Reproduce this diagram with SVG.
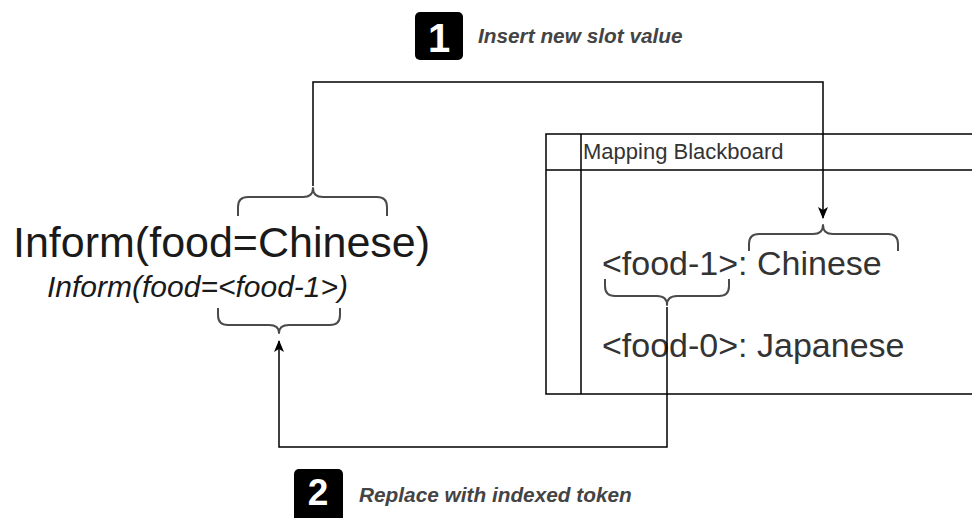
<svg xmlns="http://www.w3.org/2000/svg" width="972" height="518" viewBox="0 0 972 518">
<style>
  .bg{fill:#ffffff}
  .line{fill:none;stroke:#000;stroke-width:1.5}
  .brace{fill:none;stroke:#4a4a4a;stroke-width:2;stroke-linejoin:round}
  .tbl{fill:none;stroke:#000;stroke-width:1.5}
  .big{font-family:"Liberation Sans",Arial,sans-serif;fill:#1a1a1a}
  .ital{font-family:"Liberation Sans",Arial,sans-serif;font-style:italic;fill:#1a1a1a}
  .cell{font-family:"Liberation Sans",Arial,sans-serif;fill:#333}
  .step{font-family:"Liberation Sans",Arial,sans-serif;font-style:italic;font-weight:bold;fill:#444;font-size:20.8px}
  .badge{fill:#000}
  .digit{font-family:"Liberation Sans",Arial,sans-serif;font-weight:bold;fill:#fff;text-anchor:middle}
</style>
<defs>
  <marker id="arrow" viewBox="0 0 12 10" refX="11" refY="5" markerWidth="12" markerHeight="10" markerUnits="userSpaceOnUse" orient="auto">
    <path d="M0,0 L12,5 L0,10 L3,5 Z" fill="#000"/>
  </marker>
</defs>
<rect class="bg" x="0" y="0" width="972" height="518"/>

<g id="step1">
  <rect class="badge" x="415" y="12" width="48" height="48" rx="5"/>
  <text class="digit" x="439" y="52" font-size="40">1</text>
  <text class="step" x="478" y="43">Insert new slot value</text>
</g>

<g id="step2">
  <rect class="badge" x="294" y="469" width="49" height="56" rx="5"/>
  <text class="digit" x="318" y="505" font-size="37">2</text>
  <text class="step" x="359" y="502">Replace with indexed token</text>
</g>

<g id="inform">
  <text class="big" x="13" y="257" font-size="43">Inform(food=Chinese)</text>
  <text class="ital" x="47" y="297" font-size="30">Inform(food=&lt;food-1&gt;)</text>
  <path class="brace" d="M238,216 V207 Q238,197 248,197 H303 Q313,197 313,188 Q313,197 323,197 H377 Q387,197 387,207 V216"/>
  <path class="brace" d="M218,308 V315 Q218,325 228,325 H269 Q279,325 279,333 Q279,325 289,325 H330 Q340,325 340,315 V308"/>
</g>

<g id="blackboard">
  <path class="tbl" d="M980,134 H546 V394 H980 M546,170 H980 M581,134 V394"/>
  <text class="cell" x="583" y="159" font-size="22">Mapping Blackboard</text>
  <text class="cell" x="602" y="275" font-size="34">&lt;food-1&gt;: Chinese</text>
  <text class="cell" x="602" y="357" font-size="34">&lt;food-0&gt;: Japanese</text>
  <path class="brace" d="M749,251 V244 Q749,234 759,234 H813 Q823,234 823,225 Q823,234 833,234 H888 Q898,234 898,244 V251"/>
  <path class="brace" d="M605,279 V286 Q605,296 615,296 H657 Q667,296 667,305 Q667,296 677,296 H719 Q729,296 729,286 V279"/>
</g>

<g id="connectors">
  <polyline class="line" points="313,186 313,82 823,82 823,218" marker-end="url(#arrow)"/>
  <polyline class="line" points="667,307 667,447 279,447 279,341" marker-end="url(#arrow)"/>
</g>
</svg>
